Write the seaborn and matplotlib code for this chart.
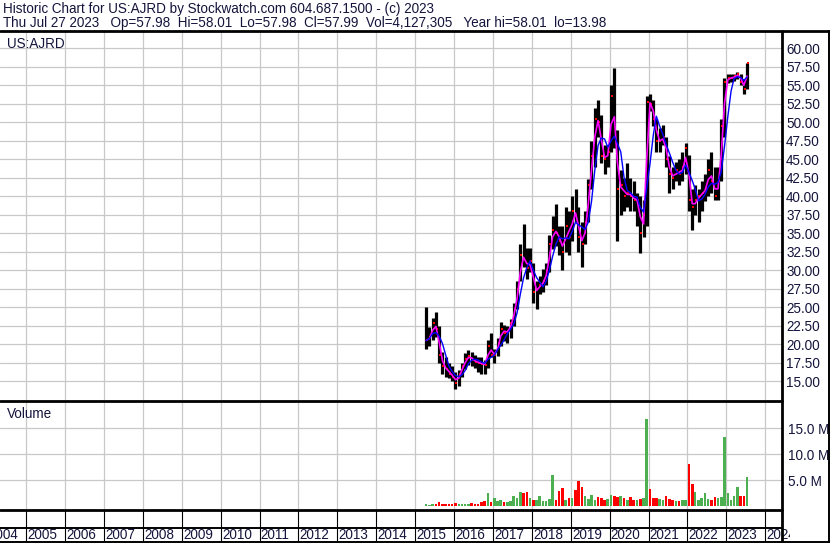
import numpy as np
import pandas as pd
import matplotlib
matplotlib.use("Agg")
import matplotlib.pyplot as plt
from matplotlib.lines import Line2D
import seaborn as sns

# =========================
# data (monthly)
# =========================
start_month = "2015-04-01"

high = [25.0, 22.3, 23.5, 24.4, 22.5, 19.0, 18.3, 17.5, 17.0,
        16.3, 16.5, 17.4, 18.8, 19.2, 19.0, 18.6, 18.3, 18.2, 17.8, 20.5, 21.5,
        19.3, 20.8, 23.0, 22.6, 22.4, 23.4, 25.5, 28.5, 33.5, 36.3, 33.0, 33.0,
        31.0, 28.5, 29.2, 30.1, 31.0, 34.7, 37.4, 39.0, 36.0, 36.0, 38.5, 38.0,
        40.0, 41.0, 38.5, 36.5, 38.0, 42.3, 47.5, 52.0, 53.0, 51.0, 47.0, 47.0,
        55.0, 57.3, 49.0, 43.5, 42.5, 44.5, 42.5, 42.0, 40.5, 40.0, 39.5, 53.5,
        53.8, 53.0, 50.5, 49.2, 49.6, 48.0, 45.5, 44.0, 44.7, 45.0, 46.0, 47.2,
        45.6, 41.0, 41.5, 41.0, 42.0, 43.0, 45.0, 46.0, 44.0, 44.0, 50.5, 56.0,
        56.5, 56.6, 56.5, 56.8, 56.6, 55.8, 58.0]

low = [19.3, 19.8, 20.5, 21.0, 17.5, 16.0, 15.5, 15.4, 15.0,
       13.9, 14.3, 15.5, 16.6, 17.2, 17.0, 16.8, 16.3, 16.0, 15.9, 16.8, 18.2,
       17.5, 18.4, 19.8, 20.4, 20.2, 20.8, 22.5, 24.7, 28.5, 30.5, 28.8, 29.7,
       25.5, 24.7, 26.8, 27.0, 28.0, 29.8, 32.9, 33.3, 32.0, 30.0, 32.5, 32.0,
       34.0, 36.5, 32.5, 30.5, 33.5, 36.5, 41.0, 44.0, 48.0, 44.5, 43.0, 44.0,
       46.0, 46.5, 34.0, 37.5, 38.0, 38.5, 38.0, 38.0, 36.0, 32.3, 34.5, 36.0,
       51.5, 49.5, 46.0, 46.0, 47.0, 44.0, 40.5, 41.0, 42.0, 41.5, 42.0, 43.0,
       38.0, 35.4, 37.5, 36.5, 38.0, 39.3, 40.0, 40.5, 39.5, 39.5, 42.0, 48.0,
       55.3, 55.5, 55.6, 55.8, 55.0, 53.8, 54.5]

close = [20.5, 21.0, 22.8, 22.0, 18.5, 17.0, 16.6, 16.0, 15.6,
         14.8, 16.0, 17.0, 18.0, 18.4, 17.9, 17.6, 17.5, 17.3, 17.2, 19.8, 18.6,
         18.6, 20.2, 22.0, 21.5, 21.8, 22.8, 24.8, 27.5, 32.0, 31.5, 30.3, 31.2,
         27.0, 27.5, 28.0, 28.5, 30.0, 33.5, 35.5, 35.0, 34.0, 32.5, 36.0, 34.5,
         38.0, 37.5, 34.5, 33.5, 36.5, 41.5, 45.5, 50.5, 50.0, 45.5, 45.0, 46.0,
         53.5, 48.0, 41.0, 41.5, 40.0, 40.5, 40.0, 39.5, 39.5, 35.0, 37.5, 52.8,
         52.5, 50.5, 47.5, 47.5, 48.0, 45.0, 43.0, 42.5, 43.5, 43.0, 44.0, 46.5,
         39.5, 38.5, 39.5, 40.0, 40.5, 41.0, 43.5, 42.0, 40.0, 42.0, 49.5, 55.5,
         56.0, 56.0, 56.2, 56.5, 55.5, 54.5, 58.0]

# peak daily volume in each month, millions
volume_m = [0.4, 0.3, 0.4, 0.5, 0.9, 0.5, 0.4, 0.4, 0.5,
            0.6, 0.5, 0.4, 0.4, 0.5, 0.6, 0.5, 0.5, 0.8, 1.1, 2.6, 0.8,
            1.5, 1.0, 1.3, 0.9, 0.8, 1.0, 1.9, 1.5, 2.8, 2.5, 2.8, 1.5,
            1.2, 1.3, 2.0, 1.1, 1.0, 1.4, 6.0, 1.3, 3.0, 3.5, 1.2, 1.5,
            1.5, 3.1, 4.9, 3.7, 2.0, 1.4, 2.2, 1.3, 1.8, 1.5, 1.2, 1.4,
            2.2, 2.0, 1.8, 1.9, 1.5, 1.3, 1.7, 1.2, 1.2, 1.4, 1.6, 16.8,
            3.3, 1.5, 1.6, 1.4, 1.3, 2.0, 1.4, 1.2, 1.1, 1.0, 1.2, 1.2,
            8.1, 4.3, 2.8, 1.3, 1.5, 2.6, 1.4, 1.3, 1.7, 1.5, 1.8, 13.3,
            2.6, 1.2, 2.0, 3.7, 2.0, 1.9, 5.6]

years = list(range(2004, 2025))
price_ticks = np.arange(15, 60.1, 2.5)
volume_ticks = [5, 10, 15]

title_line1 = "Historic Chart for US:AJRD by Stockwatch.com 604.687.1500 - (c) 2023"
title_line2 = ("Thu Jul 27 2023   Op=57.98  Hi=58.01  Lo=57.98  Cl=57.99  "
               "Vol=4,127,305   Year hi=58.01  lo=13.98")

# =========================
# frame
# =========================
df = pd.DataFrame({
    "date": pd.date_range(start_month, periods=len(close), freq="MS") + pd.Timedelta(days=14),
    "high": high, "low": low, "close": close, "volume": volume_m,
})
df["ma_fast"] = df["close"].rolling(2, min_periods=1).mean()
df["ma_slow"] = df["close"].rolling(4, min_periods=1).mean()
df["up"] = df["close"].diff().fillna(0) >= 0

sns.set_style("white")
plt.rcParams["font.family"] = ["Liberation Sans", "DejaVu Sans"]
ink = "#14143c"
grid_c = "#c8c8c8"

W, H = 830, 543
fig = plt.figure(figsize=(W / 100, H / 100), dpi=100)


def box(x0, y0, x1, y1):
    return [x0 / W, 1 - y1 / H, (x1 - x0) / W, (y1 - y0) / H]


xlim = (pd.Timestamp("2004-04-30"), pd.Timestamp("2024-06-07"))
year_starts = [pd.Timestamp(f"{y}-01-01") for y in years]

ax_p = fig.add_axes(box(0, 31, 782, 400))
ax_v = fig.add_axes(box(0, 402, 782, 509))
ax_g = fig.add_axes(box(0, 510, 782, 528))
ax_l = fig.add_axes(box(0, 528, 790, 541))

for ax in (ax_p, ax_v, ax_g, ax_l):
    ax.set_xlim(*xlim)
    for s in ax.spines.values():
        s.set_visible(False)
    ax.set_facecolor("white")
ax_l.set_xlim(xlim[0], xlim[0] + (xlim[1] - xlim[0]) * 790 / 782)

# =========================
# price panel
# =========================
ax_p.set_ylim(12.45, 62.35)
for d in year_starts:
    ax_p.axvline(d, color=grid_c, lw=0.9, zorder=0)
    ax_v.axvline(d, color=grid_c, lw=0.9, zorder=0)
for p in price_ticks:
    ax_p.axhline(p, color=grid_c, lw=0.9, zorder=0)

ax_p.vlines(df["date"], df["low"], df["high"], color="black", lw=2.3, zorder=2)
ax_p.plot(df["date"] + pd.Timedelta(days=8), df["close"], "s", color="red",
          ms=1.6, mew=0, zorder=3)
sns.lineplot(data=df, x="date", y="ma_fast", color="#ff00ff", lw=1.2, ax=ax_p, zorder=4)
sns.lineplot(data=df, x="date", y="ma_slow", color="#0000ff", lw=1.0, ax=ax_p, zorder=5)

ax_p.yaxis.tick_right()
ax_p.set_yticks(price_ticks)
ax_p.set_yticklabels([f"{p:.2f}" for p in price_ticks])
ax_p.tick_params(axis="y", length=0, pad=3, labelsize=9.75, labelcolor=ink)
ax_p.annotate("US:AJRD", xy=(0, 1), xycoords="axes fraction", xytext=(7, -6),
              textcoords="offset pixels", fontsize=9.75, color=ink, va="top", ha="left")

# =========================
# volume panel
# =========================
ax_v.set_ylim(-0.52, 20.06)
for v in volume_ticks:
    ax_v.axhline(v, color=grid_c, lw=0.9, zorder=0)
ax_v.bar(df["date"], df["volume"], width=24, linewidth=0,
         color=np.where(df["up"], "#4caf50", "#ff0000"), zorder=2)
ax_v.yaxis.tick_right()
ax_v.set_yticks(volume_ticks)
ax_v.set_yticklabels([f"{v:.1f} M" for v in volume_ticks])
ax_v.tick_params(axis="y", length=0, pad=4, labelsize=9.75, labelcolor=ink)
ax_v.annotate("Volume", xy=(0, 1), xycoords="axes fraction", xytext=(7, -5),
              textcoords="offset pixels", fontsize=9.75, color=ink, va="top", ha="left")

for ax in (ax_p, ax_v, ax_g, ax_l):
    ax.set_xticks([])
    ax.set_xlabel("")
    ax.set_ylabel("")

# =========================
# year strips
# =========================
for ax in (ax_g, ax_l):
    ax.set_ylim(0, 1)
    ax.set_yticks([])
    for d in year_starts:
        ax.axvline(d, color="black", lw=0.8)
for y, d in zip(years, year_starts):
    ax_l.text(d + pd.Timedelta(days=12), 0.45, str(y), fontsize=9.75, color=ink,
              va="center", ha="left", clip_on=True)

# =========================
# frame lines
# =========================
def hline(y, x0, x1, lw):
    fig.add_artist(Line2D([x0 / W, x1 / W], [1 - y / H, 1 - y / H], color="black", lw=lw))


def vline(x, y0, y1, lw):
    fig.add_artist(Line2D([x / W, x / W], [1 - y0 / H, 1 - y1 / H], color="black", lw=lw))


hline(31, 0, W, 2.0)
hline(401, 0, 782, 2.0)
hline(509.5, 0, 782, 2.0)
hline(528, 0, 782, 1.4)
hline(541.5, 0, W, 1.4)
vline(782, 31, 543, 2.0)
vline(828.5, 31, 543, 1.4)

fig.text(3 / W, 1 - 9 / H, title_line1, fontsize=9.75, color=ink, va="center", ha="left")
fig.text(3 / W, 1 - 23.5 / H, title_line2, fontsize=9.75, color=ink, va="center", ha="left")

fig.savefig("out.png", dpi=100)
